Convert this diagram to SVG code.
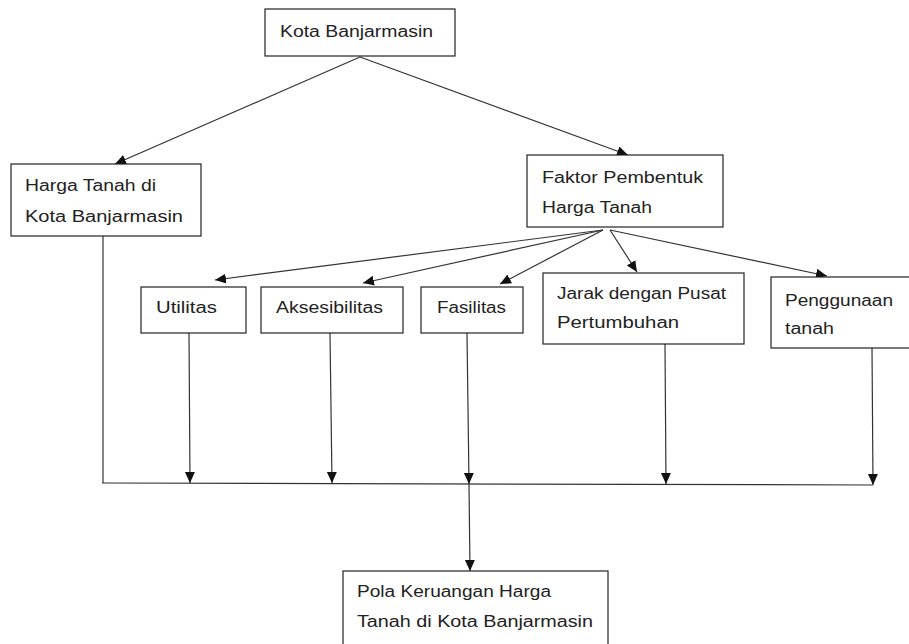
<svg xmlns="http://www.w3.org/2000/svg" width="909" height="644" viewBox="0 0 909 644">
<style>
.box{fill:#fff;stroke:#222;stroke-width:1.2}
.t{font-family:"Liberation Sans",Arial,sans-serif;font-size:16px;fill:#222}
.c{fill:none;stroke:#333;stroke-width:1.2}
</style>
<defs>
<marker id="ah" markerUnits="userSpaceOnUse" markerWidth="12" markerHeight="12" refX="11" refY="5" orient="auto">
<path d="M0,0 L11,5 L0,10 z" fill="#111"/>
</marker>
</defs>
<rect width="909" height="644" fill="#fff"/>
<g id="connectors">
<line class="c" x1="360" y1="57" x2="115" y2="164" marker-end="url(#ah)"/>
<line class="c" x1="360" y1="57" x2="628" y2="155" marker-end="url(#ah)"/>
<line class="c" x1="603" y1="230" x2="215" y2="280" marker-end="url(#ah)"/>
<line class="c" x1="603" y1="230" x2="363" y2="283" marker-end="url(#ah)"/>
<line class="c" x1="603" y1="230" x2="500" y2="284" marker-end="url(#ah)"/>
<line class="c" x1="610" y1="230" x2="637" y2="272" marker-end="url(#ah)"/>
<line class="c" x1="610" y1="230" x2="827" y2="276" marker-end="url(#ah)"/>
<line class="c" x1="103" y1="236" x2="103" y2="483"/>
<line class="c" x1="102" y1="483" x2="873" y2="485"/>
<line class="c" x1="189" y1="333" x2="190" y2="483" marker-end="url(#ah)"/>
<line class="c" x1="330" y1="333" x2="332" y2="483" marker-end="url(#ah)"/>
<line class="c" x1="467" y1="333" x2="469" y2="484" marker-end="url(#ah)"/>
<line class="c" x1="665" y1="344" x2="666" y2="484" marker-end="url(#ah)"/>
<line class="c" x1="872" y1="348" x2="873" y2="485" marker-end="url(#ah)"/>
<line class="c" x1="469" y1="484" x2="470" y2="571" marker-end="url(#ah)"/>
</g>
<g id="kota">
<rect class="box" x="265" y="9" width="190" height="47"/>
<text class="t" x="280" y="37" textLength="153" lengthAdjust="spacingAndGlyphs">Kota Banjarmasin</text>
</g>
<g id="harga">
<rect class="box" x="11" y="164" width="190" height="72"/>
<text class="t" x="25" y="191" textLength="131" lengthAdjust="spacingAndGlyphs">Harga Tanah di</text>
<text class="t" x="25" y="222" textLength="158" lengthAdjust="spacingAndGlyphs">Kota Banjarmasin</text>
</g>
<g id="faktor">
<rect class="box" x="527" y="155" width="196" height="72"/>
<text class="t" x="542" y="183" textLength="161" lengthAdjust="spacingAndGlyphs">Faktor Pembentuk</text>
<text class="t" x="542" y="213" textLength="110" lengthAdjust="spacingAndGlyphs">Harga Tanah</text>
</g>
<g id="utilitas">
<rect class="box" x="141" y="287" width="105" height="46"/>
<text class="t" x="156" y="313" textLength="61" lengthAdjust="spacingAndGlyphs">Utilitas</text>
</g>
<g id="aksesibilitas">
<rect class="box" x="261" y="287" width="142" height="46"/>
<text class="t" x="276" y="313" textLength="107" lengthAdjust="spacingAndGlyphs">Aksesibilitas</text>
</g>
<g id="fasilitas">
<rect class="box" x="421" y="287" width="102" height="46"/>
<text class="t" x="437" y="313" textLength="69" lengthAdjust="spacingAndGlyphs">Fasilitas</text>
</g>
<g id="jarak">
<rect class="box" x="543" y="273" width="201" height="71"/>
<text class="t" x="557" y="299" textLength="169" lengthAdjust="spacingAndGlyphs">Jarak dengan Pusat</text>
<text class="t" x="557" y="328" textLength="122" lengthAdjust="spacingAndGlyphs">Pertumbuhan</text>
</g>
<g id="penggunaan">
<rect class="box" x="771" y="277" width="150" height="71"/>
<text class="t" x="785" y="306" textLength="108" lengthAdjust="spacingAndGlyphs">Penggunaan</text>
<text class="t" x="785" y="334" textLength="49" lengthAdjust="spacingAndGlyphs">tanah</text>
</g>
<g id="pola">
<rect class="box" x="343" y="571" width="265" height="85"/>
<text class="t" x="357" y="597" textLength="194" lengthAdjust="spacingAndGlyphs">Pola Keruangan Harga</text>
<text class="t" x="357" y="627" textLength="236" lengthAdjust="spacingAndGlyphs">Tanah di Kota Banjarmasin</text>
</g>
</svg>
